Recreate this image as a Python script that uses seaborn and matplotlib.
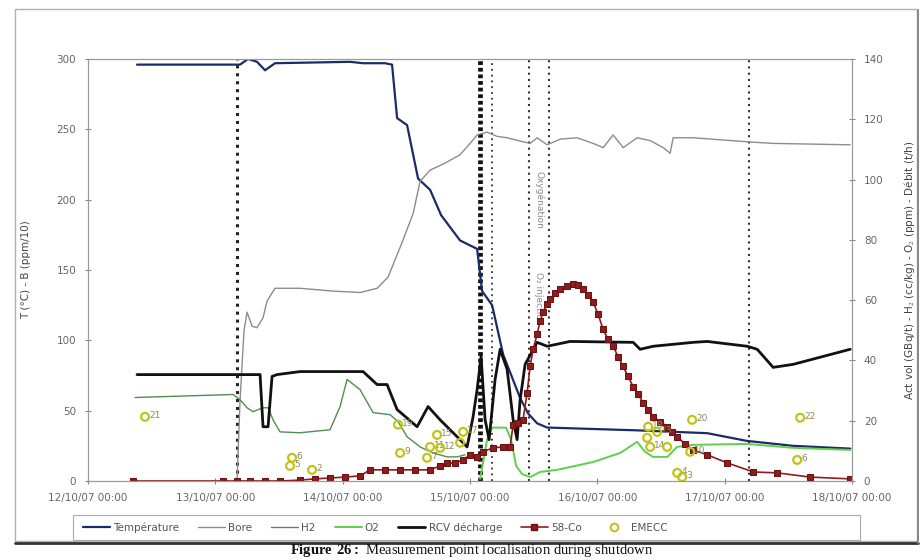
import numpy as np
import pandas as pd
import matplotlib
matplotlib.use("Agg")
import matplotlib.pyplot as plt
from matplotlib.lines import Line2D
from matplotlib.patches import Rectangle
import seaborn as sns

sns.set_style("white")
plt.rcParams["font.family"] = ["DejaVu Sans"]
plt.rcParams["mathtext.fontset"] = "custom"
plt.rcParams["mathtext.rm"] = "Liberation Serif"
plt.rcParams["mathtext.bf"] = "Liberation Serif:bold"

# ---------------- data (hours after 12/10/07 00:00) ----------------
START = "2007-10-12 00:00"

temp_h = [9.24, 28.65, 30.16, 31.86, 33.37, 35.25, 49.40, 51.85, 55.99, 57.31, 58.26, 60.14,
          62.21, 64.48, 66.55, 70.13, 73.34, 74.28, 76.17, 78.24, 81.45, 82.95, 84.65, 86.54,
          103.5, 116.7, 124.2, 132.9, 143.7]
temp_v = [296, 296, 300, 298, 292, 297, 298, 297, 297, 296, 258, 253,
          215, 207, 189, 171, 165, 135, 125, 90, 59, 48, 41, 38,
          36, 34, 28.5, 25, 23]

bore_h = [28.09, 28.65, 29.41, 29.98, 30.92, 31.86, 32.99, 33.75, 35.25, 39.97, 46.19, 51.28,
          54.49, 56.56, 58.82, 61.27, 62.59, 64.48, 67.31, 70.13, 72.02, 73.34, 75.22, 77.11,
          79.0, 81.07, 83.33, 84.65, 86.54, 88.99, 92.19, 95.21, 97.09, 98.98, 100.87, 103.51,
          105.95, 108.4, 109.73, 110.29, 114.06, 124.81, 129.14, 143.66]
bore_v = [0, 57, 107, 120, 110, 109, 116, 128, 137, 137, 135, 134,
          137, 145, 166, 190, 213, 221, 226, 232, 240, 246, 248, 245,
          244, 242, 240, 244, 239, 243, 244, 240, 237, 246, 237, 244,
          242, 237, 233, 244, 244, 241, 240, 239]

h2_h = [8.86, 27.34, 28.65, 29.98, 31.11, 32.99, 33.94, 34.88, 36.2, 39.97, 45.62, 47.51,
        48.83, 51.28, 53.73, 56.94, 58.44, 60.14, 62.59, 65.04, 67.68, 69.57, 71.08]
h2_v = [27.7, 28.7, 27, 24.3, 23, 24.3, 24.3, 20.3, 16.3, 16, 17, 24.7,
        33.7, 30.3, 22.7, 22, 19.7, 14.7, 11.3, 9.3, 8, 8, 8.7]

o2_h = [73.9, 75.22, 76.17, 78.81, 79.75, 80.69, 81.82, 83.33, 85.22, 88.42, 95.21, 100.3,
        103.5, 105.0, 106.5, 109.2, 111.0, 114.1, 124.2, 132.9, 143.7]
o2_v = [0.7, 13.7, 17.7, 17.7, 13.7, 5, 2.3, 1.3, 3, 3.7, 6.3, 9.3,
        13, 9.7, 8, 8, 11.3, 12, 12.3, 11, 10.3]

rcv_h = [9.24, 32.43, 32.99, 33.94, 34.69, 35.63, 39.97, 51.85, 54.49, 56.37, 58.26, 62.03,
         64.1, 66.36, 70.13, 71.45, 72.58, 73.34, 74.09, 74.85, 75.6, 76.73, 77.68, 79.0,
         80.13, 80.88, 81.45, 82.39, 84.65, 86.54, 90.87, 102.75, 104.07, 106.52, 114.06, 116.7,
         124.24, 126.13, 129.14, 132.91, 143.66]
rcv_v = [35.3, 35.3, 18, 18, 34.7, 35.3, 36.3, 36.3, 32, 32, 23.7, 18,
         24.7, 20.3, 13.7, 11.3, 21.3, 30.3, 41.3, 20.3, 13.7, 33.7, 43.7, 37,
         20.3, 13.7, 27, 38.7, 46, 44.7, 46.3, 46, 43.7, 44.7, 46, 46.3,
         44.7, 43.7, 37.7, 38.7, 43.7]

co58_h = [8.48, 25.45, 28.09, 30.54, 33.37, 36.2, 39.97, 42.8, 45.62, 48.45, 51.28, 53.17,
          55.99, 58.82, 61.65, 64.48, 66.36, 67.68, 69.19, 70.7, 72.02, 73.34, 74.47, 76.36,
          78.24, 79.56, 80.13, 81.07, 82.0, 82.77, 83.33, 83.9, 84.65, 85.2, 85.78, 86.54,
          87.1, 88.05, 88.99, 90.3, 91.44, 92.4, 93.32, 94.27, 95.21, 96.15, 97.09, 98.0,
          98.98, 99.9, 100.87, 101.8, 102.75, 103.7, 104.64, 105.6, 106.52, 107.84, 109.2, 110.1,
          111.05, 112.5, 114.06, 116.7, 120.5, 125.4, 129.9, 136.1, 143.7]
co58_v = [0, 0, 0, 0, 0, 0, 0.3, 0.7, 1, 1.3, 1.7, 3.7,
          3.7, 3.7, 3.7, 3.7, 5, 6, 6, 7, 8.7, 8, 9.7, 11,
          11.3, 11.3, 18.7, 19.3, 20.3, 29.3, 38, 43.7, 48.7, 53, 56, 58.7,
          60.3, 62.3, 63.7, 64.7, 65.3, 65, 63.7, 61.7, 59.3, 55.3, 50.3, 47,
          44.7, 41.3, 38, 34.7, 31.3, 28.7, 26, 23.7, 21.3, 19.7, 18, 16.3,
          14.7, 12.3, 10.3, 8.7, 6, 3, 2.7, 1.3, 0.7]

emecc_h = [10.75, 38.46, 38.08, 42.23, 58.44, 58.82, 65.8, 64.48, 63.91, 66.36, 70.7, 70.13,
           105.58, 105.39, 107.27, 105.95, 109.16, 113.5, 111.05, 111.99, 113.87, 133.67, 134.23]
emecc_v = [21.3, 7.7, 5.0, 3.7, 18.7, 9.3, 15.3, 11.3, 7.7, 11.0, 16.3, 12.7,
           18.0, 14.3, 16.3, 11.3, 11.3, 9.7, 2.7, 1.3, 20.3, 7.0, 21.0]
emecc_lab = ["21", "6", "5", "2", "19", "9", "15", "11", "7", "12", "17", "",
             "18", "", "13", "14", "", "10", "4", "3", "20", "6", "22"]

event_h = [28.09, 73.9, 76.17, 83.14, 86.91, 124.6]
event_text = ["Oxygénation", "O₂ injection"]
event_text_h = [85.0, 85.0]
event_text_y = [200, 130]

x_ticks = ["12/10/07 00:00", "13/10/07 00:00", "14/10/07 00:00", "15/10/07 00:00",
           "16/10/07 00:00", "17/10/07 00:00", "18/10/07 00:00"]
left_ticks = [0, 50, 100, 150, 200, 250, 300]
right_ticks = [0, 20, 40, 60, 80, 100, 120, 140]

# ---------------- helpers ----------------
base = pd.Timestamp(START)
def tt(h):
    return base + pd.to_timedelta(np.asarray(h, dtype=float), unit="h")

def frame(h, v):
    return pd.DataFrame({"t": tt(h), "v": v})

W, H = 923, 560
fig = plt.figure(figsize=(W / 100, H / 100), dpi=100)
ax = fig.add_axes([88 / W, 1 - 481 / H, (852 - 88) / W, (481 - 59) / H])
ax2 = ax.twinx()
ax.set_zorder(1)
ax2.set_zorder(2)
ax.patch.set_visible(True)
ax2.patch.set_visible(False)

c_temp = "#1c2a66"
c_bore = "#8c8c8c"
c_h2 = "#4f8f4f"
c_o2 = "#5fd04c"
c_rcv = "#111111"
c_co = "#8e1d1d"
c_em = "#c2c21a"

# left-axis series
sns.lineplot(data=frame(temp_h, temp_v), x="t", y="v", ax=ax, color=c_temp, lw=1.6, sort=False)
sns.lineplot(data=frame(bore_h, bore_v), x="t", y="v", ax=ax, color=c_bore, lw=1.0, sort=False)

# event lines
styles = [dict(lw=2.2, ls=(0, (1, 1.6)), color="#222"),
          dict(lw=3.4, ls=(0, (0.8, 0.6)), color="#111"),
          dict(lw=1.3, ls=(0, (1, 2.2)), color="#333"),
          dict(lw=1.5, ls=(0, (1, 2.0)), color="#333"),
          dict(lw=1.5, ls=(0, (1, 2.0)), color="#333"),
          dict(lw=1.5, ls=(0, (1, 2.0)), color="#333")]
for h, st in zip(event_h, styles):
    ax.axvline(tt([h])[0], **st, zorder=0.5)

# right-axis series
sns.lineplot(data=frame(h2_h, h2_v), x="t", y="v", ax=ax2, color=c_h2, lw=1.0, sort=False)
sns.lineplot(data=frame(o2_h, o2_v), x="t", y="v", ax=ax2, color=c_o2, lw=1.4, sort=False)
sns.lineplot(data=frame(rcv_h, rcv_v), x="t", y="v", ax=ax2, color=c_rcv, lw=2.0, sort=False)
sns.lineplot(data=frame(co58_h, co58_v), x="t", y="v", ax=ax2, color=c_co, lw=1.2, sort=False,
             marker="s", markersize=4.5, markeredgecolor="#6a1212", markerfacecolor=c_co)
em = frame(emecc_h, emecc_v)
sns.scatterplot(data=em, x="t", y="v", ax=ax2, s=32, facecolors="none",
                edgecolor=c_em, linewidth=1.6, zorder=5)
for t, v, lab in zip(em["t"], em["v"], emecc_lab):
    if lab:
        ax2.annotate(lab, (t, v), xytext=(3, 1), textcoords="offset points",
                     fontsize=6.5, color="#8a8a5a", va="center", ha="left")

for txt, h, y in zip(event_text, event_text_h, event_text_y):
    ax.text(tt([h])[0], y, txt, rotation=-90, fontsize=6.5, color="#888",
            ha="center", va="center")

# axes formatting
ax.set_xlim(tt([0])[0], tt([144])[0])
ax.set_ylim(0, 300)
ax2.set_ylim(0, 140)
ax.set_xticks(tt(np.arange(len(x_ticks)) * 24))
ax.set_xticklabels(x_ticks)
ax.set_yticks(left_ticks)
ax2.set_yticks(right_ticks)
ax.set_xlabel("")
ax2.set_xlabel("")
ax.set_ylabel("T (°C) - B (ppm/10)", fontsize=7.5, color="#444")
ax2.set_ylabel("Act vol (GBq/t) - H$_2$ (cc/kg) - O$_2$ (ppm) - Débit (t/h)",
               fontsize=7.5, color="#444", rotation=90)
ax.yaxis.set_label_coords(-0.075, 0.5)
ax2.yaxis.set_label_coords(1.066, 0.5)

for a in (ax, ax2):
    for s in a.spines.values():
        s.set_color("#9a9a9a")
        s.set_linewidth(0.8)
    a.tick_params(axis="both", labelsize=7.5, labelcolor="#666", color="#888",
                  direction="inout", length=5, width=0.8)
ax.tick_params(axis="y", pad=6, left=True)
ax.tick_params(axis="x", pad=6, bottom=True)
ax2.tick_params(axis="y", pad=6, right=True)
ax.grid(False)
ax2.grid(False)

# legend
handles = [Line2D([], [], color=c_temp, lw=1.6),
           Line2D([], [], color=c_bore, lw=1.0),
           Line2D([], [], color=c_h2, lw=1.0),
           Line2D([], [], color=c_o2, lw=1.4),
           Line2D([], [], color=c_rcv, lw=2.0),
           Line2D([], [], color=c_co, lw=1.2, marker="s", markersize=4.5,
                  markeredgecolor="#6a1212"),
           Line2D([], [], ls="none", marker="o", markersize=5.5, markerfacecolor="none",
                  markeredgecolor=c_em, markeredgewidth=1.5)]
labels = ["Température", "Bore", "H2", "O2", "RCV décharge", "58-Co", "EMECC"]
fig.add_artist(Rectangle((73 / W, 1 - 540 / H), (860 - 73) / W, 25 / H,
                         transform=fig.transFigure, fill=False, ec="#aaa", lw=0.8))
leg = fig.legend(handles, labels, loc="center left",
                 bbox_to_anchor=(76 / W, 1 - 527.5 / H), ncol=7, frameon=False,
                 fontsize=7.5, handlelength=2.6, handletextpad=0.3, columnspacing=1.8,
                 borderpad=0.2)
for t in leg.get_texts():
    t.set_color("#555")

# outer frame
fig.add_artist(Rectangle((15 / W, 1 - 541 / H), (917 - 15) / W, (541 - 9) / H,
                         transform=fig.transFigure, fill=False, ec="#b0b0b0", lw=1.0))
fig.add_artist(Line2D([15 / W, 918 / W], [1 - 543 / H, 1 - 543 / H],
                      transform=fig.transFigure, color="#333", lw=2.0))
fig.add_artist(Line2D([918 / W, 918 / W], [1 - 543 / H, 1 - 10 / H],
                      transform=fig.transFigure, color="#888", lw=1.4))

fig.text(472 / W, 1 / H,
         r"$\bf{Figure\ 26:}$ Measurement point localisation during shutdown",
         ha="center", va="bottom", fontsize=10.5, family="Liberation Serif", color="#111")

fig.savefig("out.png", dpi=100)
